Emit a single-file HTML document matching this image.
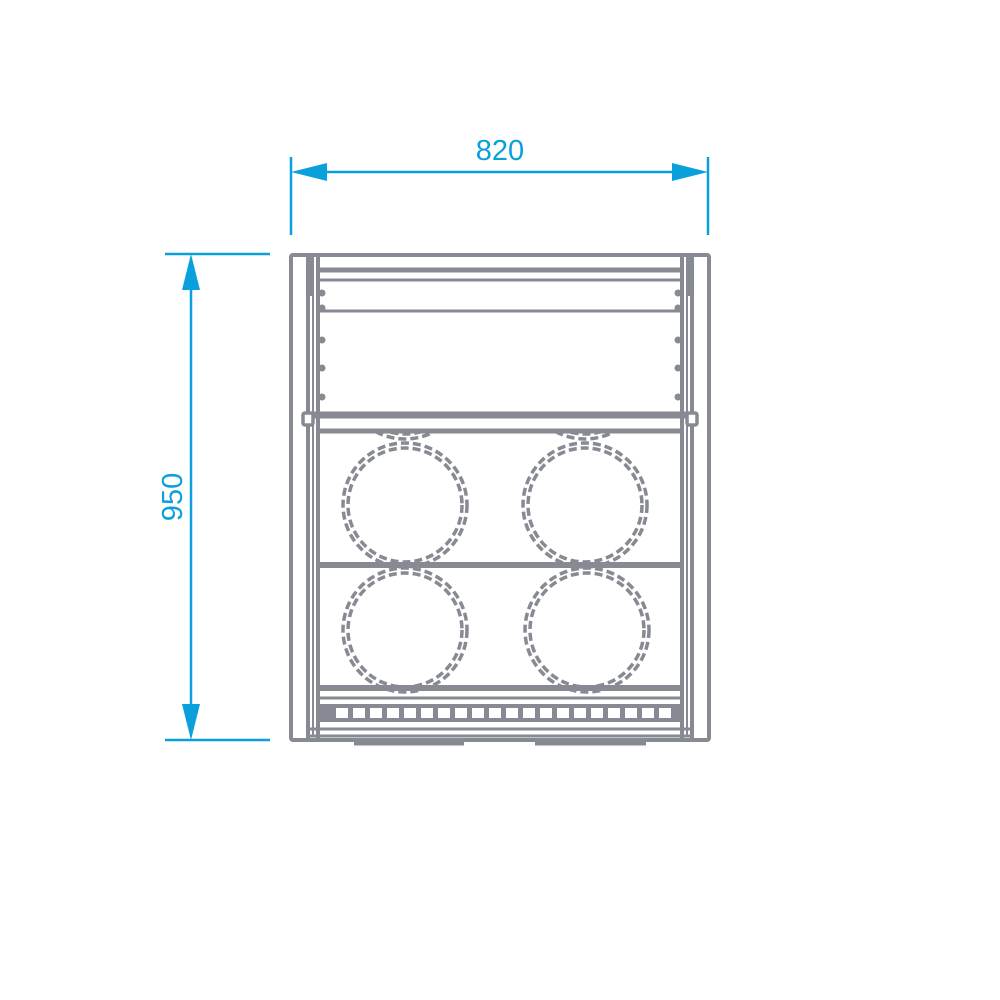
<!DOCTYPE html>
<html><head><style>body{margin:0;background:#fff}svg{display:block}</style></head><body>
<svg width="1000" height="1000" viewBox="0 0 1000 1000" xmlns="http://www.w3.org/2000/svg">
<defs><clipPath id="c"><rect x="318" y="430" width="364" height="12"/></clipPath></defs>
<g stroke="#0aa0dc" stroke-width="2.5" fill="none">
<line x1="291" y1="157" x2="291" y2="235"/><line x1="708" y1="157" x2="708" y2="235"/>
<line x1="300" y1="172" x2="700" y2="172"/>
<line x1="165" y1="254" x2="270" y2="254"/><line x1="165" y1="740" x2="270" y2="740"/>
<line x1="191" y1="262" x2="191" y2="732"/>
</g>
<g fill="#0aa0dc">
<polygon points="291,172 327,163 327,181"/><polygon points="708,172 672,163 672,181"/>
<polygon points="191,254 182,290 200,290"/><polygon points="191,740 182,704 200,704"/>
<text x="500" y="160" font-family="Liberation Sans, sans-serif" font-size="29" text-anchor="middle">820</text>
<text transform="translate(182,497) rotate(-90)" font-family="Liberation Sans, sans-serif" font-size="29" text-anchor="middle">950</text>
</g>
<g fill="#878a93">
<rect x="318" y="704" width="364" height="18"/>
</g>
<g fill="#fff">
<rect x="336" y="708" width="12" height="10"/><rect x="353" y="708" width="12" height="10"/><rect x="370" y="708" width="12" height="10"/><rect x="387" y="708" width="12" height="10"/><rect x="404" y="708" width="12" height="10"/><rect x="421" y="708" width="12" height="10"/><rect x="438" y="708" width="12" height="10"/><rect x="455" y="708" width="12" height="10"/><rect x="472" y="708" width="12" height="10"/><rect x="489" y="708" width="12" height="10"/><rect x="506" y="708" width="12" height="10"/><rect x="523" y="708" width="12" height="10"/><rect x="540" y="708" width="12" height="10"/><rect x="557" y="708" width="12" height="10"/><rect x="574" y="708" width="12" height="10"/><rect x="591" y="708" width="12" height="10"/><rect x="608" y="708" width="12" height="10"/><rect x="625" y="708" width="12" height="10"/><rect x="642" y="708" width="12" height="10"/><rect x="659" y="708" width="12" height="10"/>
</g>
<g stroke="#878a93" fill="none" stroke-width="4">
<rect x="291" y="255" width="418" height="485" rx="2"/>
<rect x="308" y="255" width="10" height="485"/>
<rect x="682" y="255" width="10" height="485"/>
<line x1="313" y1="260" x2="313" y2="735" stroke-width="2"/>
<line x1="687" y1="260" x2="687" y2="735" stroke-width="2"/>
<line x1="318" y1="270" x2="682" y2="270" stroke-width="5"/>
<line x1="318" y1="280" x2="682" y2="280" stroke-width="3"/>
<line x1="318" y1="311" x2="682" y2="311" stroke-width="3"/>
<line x1="308" y1="415" x2="692" y2="415" stroke-width="7"/>
<rect x="303" y="413" width="10" height="12" rx="2" fill="#fff" stroke-width="3.5"/>
<rect x="687" y="413" width="10" height="12" rx="2" fill="#fff" stroke-width="3.5"/>
<line x1="318" y1="431" x2="682" y2="431" stroke-width="5"/>
<line x1="318" y1="565" x2="682" y2="565" stroke-width="6"/>
<line x1="318" y1="688" x2="682" y2="688" stroke-width="6"/>
<line x1="318" y1="698" x2="682" y2="698" stroke-width="3"/>
<line x1="310" y1="729" x2="690" y2="729" stroke-width="3"/>
<line x1="310" y1="736" x2="690" y2="736" stroke-width="3"/>
<line x1="354" y1="743" x2="464" y2="743" stroke-width="5"/>
<line x1="535" y1="743" x2="646" y2="743" stroke-width="5"/>
</g>
<g fill="#878a93">
<rect x="306" y="256" width="8" height="40"/><rect x="686" y="256" width="8" height="40"/>
<circle cx="322" cy="293" r="3.5"/><circle cx="322" cy="308" r="3.5"/><circle cx="322" cy="340" r="3.5"/><circle cx="322" cy="368" r="3.5"/><circle cx="322" cy="397" r="3.5"/>
<circle cx="678" cy="293" r="3.5"/><circle cx="678" cy="308" r="3.5"/><circle cx="678" cy="340" r="3.5"/><circle cx="678" cy="368" r="3.5"/><circle cx="678" cy="397" r="3.5"/>
</g>
<g stroke="#878a93" fill="none" stroke-width="3.5" stroke-dasharray="8 4">
<circle cx="405" cy="505" r="62"/><circle cx="405" cy="505" r="57"/>
<circle cx="585" cy="505" r="62"/><circle cx="585" cy="505" r="57"/>
<circle cx="405" cy="630" r="62"/><circle cx="405" cy="630" r="57"/>
<circle cx="587" cy="630" r="62"/><circle cx="587" cy="630" r="57"/>
<g clip-path="url(#c)">
<circle cx="405" cy="377" r="62"/><circle cx="405" cy="377" r="57"/>
<circle cx="585" cy="377" r="62"/><circle cx="585" cy="377" r="57"/>
</g>
</g>
</svg>
</body></html>
